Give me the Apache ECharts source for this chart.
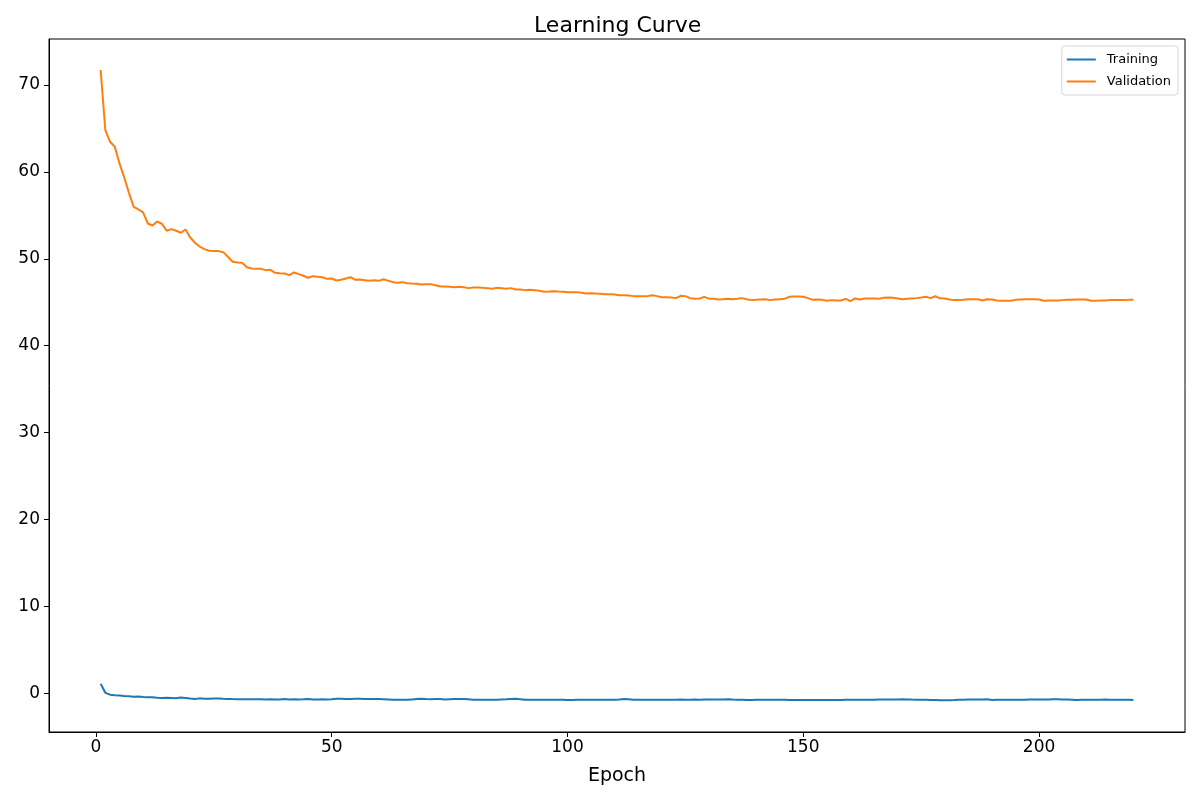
<!DOCTYPE html>
<html>
<head>
<meta charset="utf-8">
<title>Learning Curve</title>
<script src="https://cdn.jsdelivr.net/npm/echarts@6/dist/echarts.min.js"></script>
<style>
    html, body { margin: 0; padding: 0; background: #fff; }
    #chart { width: 1200px; height: 800px; }
</style>
</head>
<body>
<div id="chart"></div>
<script>
// 数据：每个 epoch 的训练 / 验证损失
var training = [
    1.10, 0.06, -0.15, -0.22, -0.25, -0.30, -0.33, -0.40, -0.37, -0.42,
    -0.44, -0.45, -0.52, -0.53, -0.52, -0.54, -0.57, -0.49, -0.53, -0.60,
    -0.65, -0.58, -0.62, -0.61, -0.60, -0.59, -0.62, -0.64, -0.66, -0.67,
    -0.68, -0.68, -0.69, -0.68, -0.69, -0.70, -0.67, -0.71, -0.70, -0.66,
    -0.70, -0.67, -0.71, -0.69, -0.65, -0.70, -0.71, -0.69, -0.70, -0.68,
    -0.63, -0.63, -0.64, -0.64, -0.63, -0.62, -0.64, -0.65, -0.66, -0.66,
    -0.68, -0.70, -0.73, -0.75, -0.74, -0.75, -0.70, -0.65, -0.62, -0.66,
    -0.69, -0.66, -0.64, -0.71, -0.67, -0.64, -0.65, -0.66, -0.68, -0.75,
    -0.75, -0.75, -0.74, -0.74, -0.73, -0.71, -0.69, -0.66, -0.63, -0.67,
    -0.75, -0.74, -0.74, -0.73, -0.73, -0.73, -0.74, -0.75, -0.75, -0.76,
    -0.76, -0.75, -0.75, -0.73, -0.73, -0.74, -0.73, -0.73, -0.73, -0.74,
    -0.70, -0.64, -0.67, -0.73, -0.74, -0.73, -0.73, -0.74, -0.73, -0.73,
    -0.74, -0.73, -0.73, -0.72, -0.73, -0.73, -0.72, -0.73, -0.72, -0.72,
    -0.72, -0.71, -0.70, -0.69, -0.72, -0.74, -0.75, -0.76, -0.76, -0.75,
    -0.74, -0.73, -0.73, -0.73, -0.74, -0.75, -0.76, -0.76, -0.76, -0.76,
    -0.76, -0.76, -0.76, -0.76, -0.76, -0.76, -0.76, -0.76, -0.75, -0.74,
    -0.75, -0.74, -0.73, -0.73, -0.73, -0.72, -0.72, -0.71, -0.70, -0.70,
    -0.69, -0.70, -0.72, -0.73, -0.73, -0.74, -0.76, -0.77, -0.79, -0.80,
    -0.79, -0.77, -0.74, -0.73, -0.72, -0.71, -0.70, -0.70, -0.69, -0.76,
    -0.74, -0.73, -0.73, -0.73, -0.74, -0.73, -0.73, -0.72, -0.72, -0.71,
    -0.70, -0.70, -0.69, -0.69, -0.70, -0.72, -0.74, -0.76, -0.75, -0.74,
    -0.73, -0.73, -0.73, -0.72, -0.73, -0.73, -0.73, -0.74, -0.75, -0.77
];
var validation = [
    71.73, 64.82, 63.47, 62.90, 60.98, 59.37, 57.60, 55.99, 55.68, 55.34,
    54.07, 53.84, 54.30, 54.03, 53.23, 53.42, 53.23, 53.00, 53.38, 52.46,
    51.85, 51.42, 51.12, 50.93, 50.89, 50.89, 50.77, 50.23, 49.66, 49.58,
    49.54, 49.04, 48.89, 48.85, 48.85, 48.70, 48.74, 48.39, 48.35, 48.32,
    48.12, 48.43, 48.24, 48.05, 47.82, 48.01, 47.93, 47.89, 47.70, 47.74,
    47.51, 47.59, 47.74, 47.89, 47.59, 47.63, 47.55, 47.47, 47.55, 47.47,
    47.66, 47.47, 47.32, 47.24, 47.32, 47.20, 47.16, 47.13, 47.05, 47.09,
    47.09, 46.97, 46.82, 46.82, 46.78, 46.74, 46.78, 46.74, 46.63, 46.70,
    46.70, 46.66, 46.63, 46.55, 46.66, 46.63, 46.55, 46.63, 46.47, 46.47,
    46.40, 46.43, 46.40, 46.32, 46.21, 46.24, 46.28, 46.24, 46.21, 46.17,
    46.17, 46.17, 46.09, 46.01, 46.05, 46.01, 45.98, 45.94, 45.94, 45.90,
    45.82, 45.82, 45.78, 45.71, 45.71, 45.71, 45.71, 45.82, 45.71, 45.59,
    45.59, 45.55, 45.48, 45.75, 45.71, 45.48, 45.40, 45.44, 45.62, 45.42,
    45.40, 45.32, 45.36, 45.40, 45.36, 45.40, 45.48, 45.36, 45.25, 45.28,
    45.32, 45.36, 45.25, 45.32, 45.36, 45.40, 45.63, 45.67, 45.67, 45.63,
    45.48, 45.28, 45.32, 45.28, 45.17, 45.25, 45.21, 45.21, 45.40, 45.13,
    45.44, 45.32, 45.44, 45.44, 45.44, 45.40, 45.51, 45.55, 45.51, 45.44,
    45.36, 45.40, 45.44, 45.48, 45.55, 45.63, 45.48, 45.70, 45.46, 45.44,
    45.32, 45.25, 45.25, 45.28, 45.36, 45.36, 45.36, 45.21, 45.36, 45.32,
    45.21, 45.17, 45.17, 45.17, 45.28, 45.32, 45.36, 45.36, 45.36, 45.32,
    45.17, 45.21, 45.21, 45.21, 45.25, 45.28, 45.28, 45.32, 45.32, 45.32,
    45.17, 45.17, 45.21, 45.21, 45.25, 45.25, 45.25, 45.25, 45.28, 45.28
];
var xTicks = [0, 50, 100, 150, 200];
var yTicks = [0, 10, 20, 30, 40, 50, 60, 70];

// epoch 从 1 开始
function toPairs(arr) {
    return arr.map(function (v, i) { return [i + 1, v]; });
}

var myChart = echarts.init(document.getElementById('chart'));
var font = 'DejaVu Sans';

var option = {
    animation: false,
    textStyle: { fontFamily: font },
    title: {
        text: 'Learning Curve',
        left: 529,
        top: 10,
        textStyle: { fontFamily: font, fontSize: 22, fontWeight: 'normal', color: '#000' }
    },
    legend: {
        data: ['Training', 'Validation'],
        orient: 'vertical',
        right: 22,
        top: 46,
        padding: [7, 7, 7, 5],
        itemGap: 9,
        itemWidth: 29,
        itemHeight: 2,
        icon: 'rect',
        borderColor: '#d6d6d6',
        borderWidth: 1,
        borderRadius: 3,
        backgroundColor: 'rgba(255,255,255,0.8)',
        textStyle: { fontFamily: font, fontSize: 13, color: '#000', padding: [0, 0, 0, 6] }
    },
    // 让绘图区和原图一致
    grid: {
        left: 49,
        right: 15,
        top: 39,
        bottom: 68,
        show: true,
        borderColor: '#000',
        borderWidth: 1,
        containLabel: false
    },
    xAxis: {
        type: 'value',
        min: -9.95,
        max: 230.95,
        name: 'Epoch',
        nameLocation: 'middle',
        nameGap: 35,
        nameTextStyle: { fontFamily: font, fontSize: 19, color: '#000' },
        axisLine: { show: true, onZero: false, lineStyle: { color: '#000', width: 1 } },
        axisTick: { show: true, length: 5, customValues: xTicks, lineStyle: { color: '#000', width: 1 } },
        axisLabel: { customValues: xTicks, margin: 7, fontFamily: font, fontSize: 17, color: '#000' },
        splitLine: { show: false }
    },
    yAxis: {
        type: 'value',
        min: -4.45,
        max: 75.3,
        axisLine: { show: true, onZero: false, lineStyle: { color: '#000', width: 1 } },
        axisTick: { show: true, length: 5, customValues: yTicks, lineStyle: { color: '#000', width: 1 } },
        axisLabel: { customValues: yTicks, margin: 9, fontFamily: font, fontSize: 17, color: '#000' },
        splitLine: { show: false }
    },
    series: [
        {
            name: 'Training',
            type: 'line',
            data: toPairs(training),
            showSymbol: false,
            symbol: 'none',
            color: '#1f77b4',
            lineStyle: { color: '#1f77b4', width: 2 }
        },
        {
            name: 'Validation',
            type: 'line',
            data: toPairs(validation),
            showSymbol: false,
            symbol: 'none',
            color: '#ff7f0e',
            lineStyle: { color: '#ff7f0e', width: 2 }
        }
    ]
};
myChart.setOption(option);
</script>
</body>
</html>
